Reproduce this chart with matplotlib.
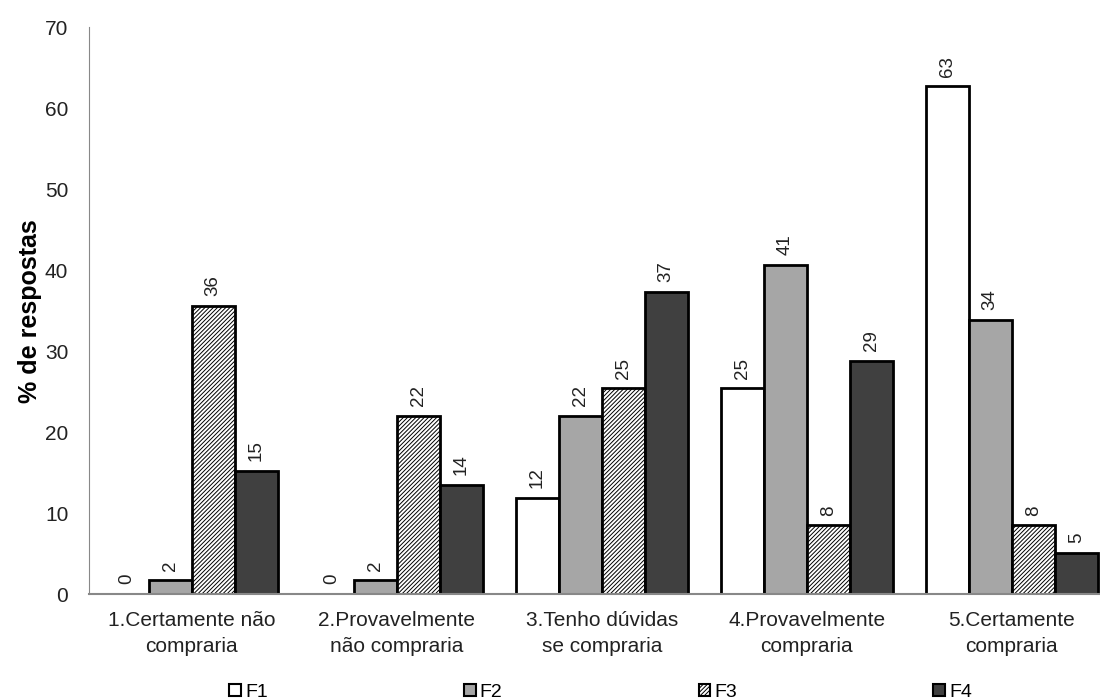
import numpy as np
import matplotlib.pyplot as plt
from matplotlib.patches import Patch

plt.rcParams['font.family'] = ['Liberation Sans', 'DejaVu Sans']
plt.rcParams['hatch.linewidth'] = 0.7

# dados
categorias = ['1.Certamente não\ncompraria', '2.Provavelmente\nnão compraria',
              '3.Tenho dúvidas\nse compraria', '4.Provavelmente\ncompraria',
              '5.Certamente\ncompraria']
series = ['F1', 'F2', 'F3', 'F4']
f1 = [0, 0, 11.9, 25.4, 62.7]
f2 = [1.7, 1.7, 22.0, 40.7, 33.9]
f3 = [35.6, 22.0, 25.4, 8.5, 8.5]
f4 = [15.2, 13.5, 37.3, 28.8, 5.1]
rotulos = [[0, 0, 12, 25, 63], [2, 2, 22, 41, 34], [36, 22, 25, 8, 8], [15, 14, 37, 29, 5]]

cores = ['white', '#a6a6a6', 'white', '#404040']
hatches = [None, None, '////////', None]

fig = plt.figure(figsize=(11, 6.99), dpi=100)
ax = fig.add_axes([0.081, 0.150, 0.932, 0.811])

x = np.arange(len(categorias))
w = 0.21
valores = [f1, f2, f3, f4]
for i, (vals, cor, h) in enumerate(zip(valores, cores, hatches)):
    pos = x + (i - 1.5) * w
    ax.bar(pos, vals, width=w, color=cor, edgecolor='black', linewidth=2, hatch=h, zorder=2)
    for p, v, r in zip(pos, vals, rotulos[i]):
        ax.text(p, v + 1.2, str(r), rotation=90, ha='center', va='bottom', fontsize=13.5, color='#222222')

ax.set_xlim(-0.5, 4.5)
ax.set_ylim(0, 70)
ax.set_yticks(range(0, 71, 10))
ax.tick_params(axis='y', length=0, labelsize=15, pad=15, labelcolor='#222222')
ax.tick_params(axis='x', length=0, labelsize=15, pad=12, labelcolor='#222222')
ax.set_xticks(x)
ax.set_xticklabels(categorias, linespacing=1.45)
ax.set_ylabel('% de respostas', fontsize=18, fontweight='bold', labelpad=2)

for s in ['top', 'right']:
    ax.spines[s].set_visible(False)
ax.spines['left'].set_color('#888888')
ax.spines['bottom'].set_color('#888888')
ax.spines['bottom'].set_linewidth(1.5)

handles = [Patch(facecolor=c, edgecolor='black', hatch=h, linewidth=1.5) for c, h in zip(cores, hatches)]
fig.legend(handles, series, loc='lower center', bbox_to_anchor=(0.546, -0.028), ncol=4, frameon=False,
           fontsize=14, handlelength=0.6, handleheight=0.6, handletextpad=0.2, columnspacing=10.1)

plt.savefig('out.png')
